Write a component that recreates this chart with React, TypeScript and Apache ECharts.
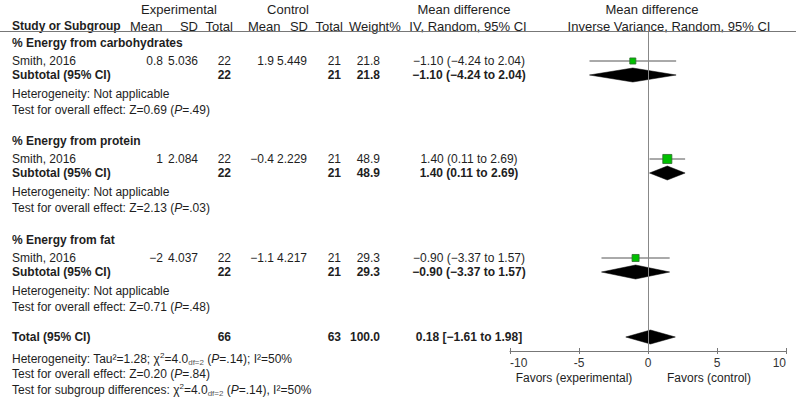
import React, { useEffect, useRef } from "react";
import * as echarts from "echarts";

// ---------- data ----------
const groupNames = ["% Energy from carbohydrates", "% Energy from protein", "% Energy from fat"];
const studyNames = ["Smith, 2016", "Smith, 2016", "Smith, 2016"];
const expMean = [0.8, 1, -2];
const expSD = [5.036, 2.084, 4.037];
const expN = [22, 22, 22];
const ctlMean = [1.9, -0.4, -1.1];
const ctlSD = [5.449, 2.229, 4.217];
const ctlN = [21, 21, 21];
const weights = [21.8, 48.9, 29.3];
const mdValue = [-1.1, 1.4, -0.9];
const mdLow = [-4.24, 0.11, -3.37];
const mdHigh = [2.04, 2.69, 1.57];
const overallZ = ["0.69", "2.13", "0.71"];
const overallP = [".49", ".03", ".48"];
const totalExpN = 66;
const totalCtlN = 63;
const totalWeight = 100.0;
const totalMD = 0.18;
const totalLow = -1.61;
const totalHigh = 1.98;
const xTicks = [-10, -5, 0, 5, 10];

// ---------- layout ----------
const W = 800;
const H = 413;
const groupBaseY = [43, 141, 240];
const OFF_STUDY = 18;
const OFF_SUB = 32;
const OFF_HET = 51;
const OFF_TEST = 67;
const TOTAL_Y = 337;
const AXIS_Y = 351;
const PLOT_TOP = 32;
const FONT = "Arial, 'Liberation Sans', Helvetica, sans-serif";
const TXT = "#1e1e1e";
const HEAD_SIZE = 13;

const minus = (s: string) => s.replace(/-/g, "\u2212");
const fmt2 = (v: number) => minus(v.toFixed(2));
const fmtN = (v: number) => minus(String(v));

function txt(x: number, y: number, text: string, align: string = "left", bold = false, extra: any = {}) {
  return {
    type: "text",
    x,
    y,
    silent: true,
    style: {
      text,
      fill: TXT,
      fontSize: 12,
      fontFamily: FONT,
      fontWeight: bold ? "bold" : "normal",
      align,
      verticalAlign: "middle",
      ...extra,
    },
  };
}

function head(x: number, y: number, text: string, align: string = "left") {
  return txt(x, y, text, align, false, { fontSize: HEAD_SIZE });
}

const richBase = {
  n: { fontSize: 12, fontFamily: FONT, fill: TXT, lineHeight: 15 },
  i: { fontSize: 12, fontFamily: FONT, fill: TXT, fontStyle: "italic", lineHeight: 15 },
  sup: { fontSize: 8, fontFamily: FONT, fill: TXT, verticalAlign: "top", lineHeight: 15 },
  sub: { fontSize: 8, fontFamily: FONT, fill: "#555", verticalAlign: "bottom", lineHeight: 15 },
};

function richTxt(x: number, y: number, text: string) {
  return {
    type: "text",
    x,
    y,
    silent: true,
    style: { text, rich: richBase, align: "left", verticalAlign: "middle", fill: TXT, fontSize: 12, fontFamily: FONT },
  };
}

export default function App() {
  const ref = useRef<HTMLDivElement>(null);
  useEffect(() => {
    document.body.style.margin = "0";
    if (!ref.current) return;
    const chart = echarts.init(ref.current, undefined, { renderer: "svg" });

    const graphics: any[] = [];
    // headers
    graphics.push(head(179, 9, "Experimental", "center"));
    graphics.push(head(288, 9, "Control", "center"));
    graphics.push(head(464, 9, "Mean difference", "center"));
    graphics.push(head(652, 9, "Mean difference", "center"));
    graphics.push(txt(12, 26, "Study or Subgroup", "left", true));
    graphics.push(head(130, 26, "Mean", "left"));
    graphics.push(head(198, 26, "SD", "right"));
    graphics.push(head(233, 26, "Total", "right"));
    graphics.push(head(248, 26, "Mean", "left"));
    graphics.push(head(308, 26, "SD", "right"));
    graphics.push(head(343, 26, "Total", "right"));
    graphics.push(head(349, 26, "Weight%", "left"));
    graphics.push(head(468, 26, "IV, Random, 95% CI", "center"));
    graphics.push(head(669, 26, "Inverse Variance, Random, 95% CI", "center"));
    graphics.push({
      type: "line",
      silent: true,
      shape: { x1: 0, y1: 31.5, x2: 796, y2: 31.5 },
      style: { stroke: "#777", lineWidth: 1 },
    });

    groupNames.forEach((g, i) => {
      const b = groupBaseY[i];
      graphics.push(txt(12, b, g, "left", true));
      const ys = b + OFF_STUDY;
      graphics.push(txt(12, ys, studyNames[i]));
      graphics.push(txt(163, ys, fmtN(expMean[i]), "right"));
      graphics.push(txt(198, ys, String(expSD[i]), "right"));
      graphics.push(txt(231, ys, String(expN[i]), "right"));
      graphics.push(txt(274, ys, fmtN(ctlMean[i]), "right"));
      graphics.push(txt(307, ys, String(ctlSD[i]), "right"));
      graphics.push(txt(341, ys, String(ctlN[i]), "right"));
      graphics.push(txt(380, ys, weights[i].toFixed(1), "right"));
      graphics.push(txt(469, ys, `${fmt2(mdValue[i])} (${fmt2(mdLow[i])} to ${fmt2(mdHigh[i])})`, "center"));
      const yb = b + OFF_SUB;
      graphics.push(txt(12, yb, "Subtotal (95% CI)", "left", true));
      graphics.push(txt(231, yb, String(expN[i]), "right", true));
      graphics.push(txt(341, yb, String(ctlN[i]), "right", true));
      graphics.push(txt(380, yb, weights[i].toFixed(1), "right", true));
      graphics.push(txt(469, yb, `${fmt2(mdValue[i])} (${fmt2(mdLow[i])} to ${fmt2(mdHigh[i])})`, "center", true));
      graphics.push(txt(12, b + OFF_HET, "Heterogeneity: Not applicable"));
      graphics.push(richTxt(12, b + OFF_TEST, `{n|Test for overall effect: Z=${overallZ[i]} (}{i|P}{n|=${overallP[i]})}`));
    });

    graphics.push(txt(12, TOTAL_Y, "Total (95% CI)", "left", true));
    graphics.push(txt(231, TOTAL_Y, String(totalExpN), "right", true));
    graphics.push(txt(341, TOTAL_Y, String(totalCtlN), "right", true));
    graphics.push(txt(380, TOTAL_Y, totalWeight.toFixed(1), "right", true));
    graphics.push(txt(469, TOTAL_Y, `${fmt2(totalMD)} [${fmt2(totalLow)} to ${fmt2(totalHigh)}]`, "center", true));
    graphics.push(richTxt(12, 359, "{n|Heterogeneity: Tau²=1.28; χ}{sup|2}{n|=4.0}{sub|df=2}{n| (}{i|P}{n|=.14); I²=50%}"));
    graphics.push(richTxt(12, 374, "{n|Test for overall effect: Z=0.20 (}{i|P}{n|=.84)}"));
    graphics.push(richTxt(12, 390, "{n|Test for subgroup differences: χ}{sup|2}{n|=4.0}{sub|df=2}{n| (}{i|P}{n|=.14), I²=50%}"));
    graphics.push(txt(574, 378, "Favors (experimental)", "center"));
    graphics.push(txt(709, 378, "Favors (control)", "center"));

    const studyData = mdValue.map((m, i) => [m, mdLow[i], mdHigh[i], groupBaseY[i] + OFF_STUDY, weights[i]]);
    const diamondData = mdValue
      .map((m, i) => [m, mdLow[i], mdHigh[i], groupBaseY[i] + OFF_SUB])
      .concat([[totalMD, totalLow, totalHigh, TOTAL_Y]]);

    chart.setOption({
      animation: false,
      grid: { left: 510, right: 14, top: PLOT_TOP, bottom: H - AXIS_Y },
      xAxis: [
        {
          type: "value",
          min: -10,
          max: 10,
          interval: 5,
          position: "bottom",
          axisLine: { show: true, onZero: false, lineStyle: { color: "#777", width: 1 } },
          axisTick: { show: true, length: 3, lineStyle: { color: "#777" } },
          axisLabel: {
            color: "#333",
            fontSize: 12,
            fontFamily: FONT,
            margin: 6,
            alignMinLabel: "left",
            alignMaxLabel: "right",
            formatter: (v: number) => (xTicks.includes(v) ? String(v) : ""),
          },
          splitLine: { show: false },
        },
        {
          type: "value",
          min: -10,
          max: 10,
          interval: 5,
          position: "bottom",
          axisLine: { show: false, onZero: false },
          axisTick: { show: true, inside: true, length: 3, lineStyle: { color: "#777" } },
          axisLabel: { show: false },
          splitLine: { show: false },
        },
      ],
      yAxis: { type: "value", min: PLOT_TOP, max: AXIS_Y, inverse: true, show: false },
      graphic: graphics,
      series: [
        {
          type: "custom",
          name: "zero",
          data: [],
          renderItem: () => null,
          markLine: {
            silent: true,
            symbol: "none",
            label: { show: false },
            lineStyle: { color: "#888", width: 1, type: "solid" },
            data: [{ xAxis: 0 }],
          },
        },
        {
          type: "custom",
          name: "studies",
          clip: false,
          encode: { x: [0, 1, 2], y: 3 },
          data: studyData,
          renderItem: (params: any, api: any) => {
            const y = api.value(3);
            const pLo = api.coord([api.value(1), y]);
            const pHi = api.coord([api.value(2), y]);
            const pM = api.coord([api.value(0), y]);
            const s = 1.3 * Math.sqrt(api.value(4));
            return {
              type: "group",
              children: [
                {
                  type: "line",
                  shape: { x1: pLo[0], y1: pLo[1], x2: pHi[0], y2: pHi[1] },
                  style: { stroke: "#555", lineWidth: 1 },
                },
                {
                  type: "rect",
                  shape: { x: pM[0] - s / 2, y: pM[1] - s / 2, width: s, height: s },
                  style: { fill: "#00c000", stroke: "#2f6b2f", lineWidth: 0.8 },
                },
              ],
            };
          },
        },
        {
          type: "custom",
          name: "diamonds",
          clip: false,
          encode: { x: [0, 1, 2], y: 3 },
          data: diamondData,
          renderItem: (params: any, api: any) => {
            const y = api.value(3);
            const pLo = api.coord([api.value(1), y]);
            const pHi = api.coord([api.value(2), y]);
            const pM = api.coord([api.value(0), y]);
            const h = 7;
            return {
              type: "polygon",
              shape: {
                points: [
                  [pLo[0], pLo[1]],
                  [pM[0], pM[1] - h],
                  [pHi[0], pHi[1]],
                  [pM[0], pM[1] + h],
                ],
              },
              style: { fill: "#000", stroke: "#000", lineWidth: 0.5 },
            };
          },
        },
      ],
    });
    return () => chart.dispose();
  }, []);
  return <div ref={ref} style={{ width: W, height: H }} />;
}
